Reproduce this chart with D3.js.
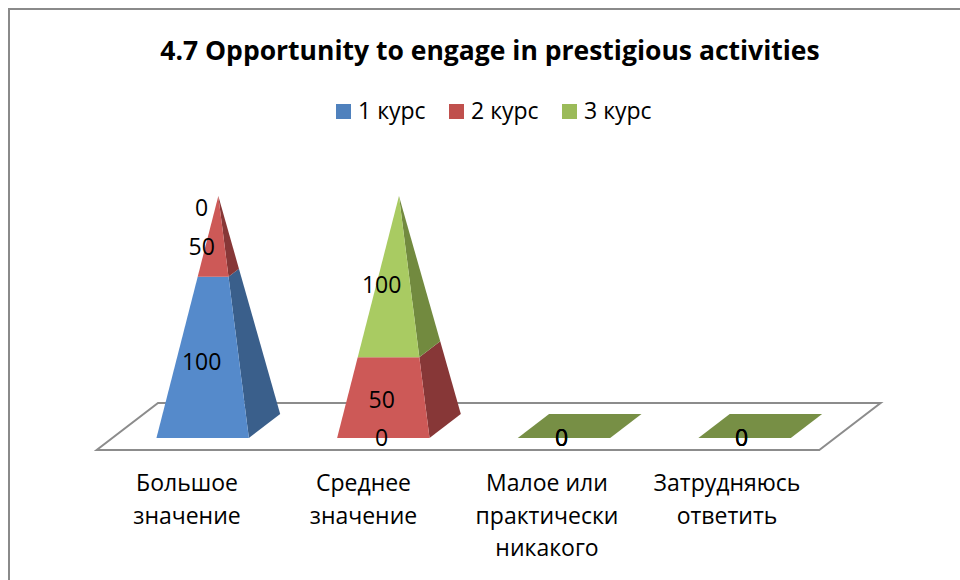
<!DOCTYPE html>
<html><head><meta charset="utf-8">
<script src="https://cdn.jsdelivr.net/npm/d3@7"></script>
<style>html,body{margin:0;padding:0;background:#fff}svg{display:block}text{font-family:"Open Sans","Noto Sans",sans-serif;fill:#000}</style>
</head><body><svg id="c" width="960" height="580"></svg>
<script>
const titleText = "4.7 Opportunity to engage in prestigious activities";
const categories = ["Большое значение","Среднее значение","Малое или практически никакого","Затрудняюсь ответить"];
const categoryLines = [["Большое","значение"],["Среднее","значение"],["Малое или","практически","никакого"],["Затрудняюсь","ответить"]];
const seriesNames = ["1 курс","2 курс","3 курс"];
const kurs1 = [100,0,0,0];
const kurs2 = [50,50,0,0];
const kurs3 = [0,100,0,0];
const seriesValues = [kurs1,kurs2,kurs3];
const legendColors = ["#4F81BD","#C0504D","#9BBB59"];
const frontColors = ["#558ACB","#CD5957","#A9CB62"];
const sideColors = ["#3A5F8B","#873737","#728A3F"];
const floorColor = "#778F45";

const svg = d3.select("#c");
svg.append("path").attr("d","M9,580V9H960").attr("fill","none").attr("stroke","#8a8a8a").attr("stroke-width",2);
svg.append("text").attr("x",490).attr("y",60).attr("text-anchor","middle").attr("font-size",26.5).attr("font-weight",700).text(titleText);

const FS = 23;
const legendX = d3.scalePoint(seriesNames,[336,562]);
const lg = svg.selectAll(".lg").data(seriesNames).join("g").attr("transform",d=>`translate(${legendX(d)},104)`);
lg.append("rect").attr("width",15).attr("height",15).attr("fill",(d,i)=>legendColors[i]);
lg.append("text").attr("x",22).attr("y",15).attr("font-size",FS).text(d=>d);

const x = d3.scaleBand(categories,[96.7,819.3]);
const xLabel = d3.scalePoint(categories,[201.7,741.7]);
const y = d3.scaleLinear([0,150],[0,230]);
const DX = 61.3, DY = 47, BASE = 450;
const half = 46.2, d0 = .255, d1 = .766;
const proj = (px,d,h) => [px + DX*d, BASE - DY*d - h];
function corner(cat,side,d,v){
  const c = x(cat)+x.bandwidth()/2;
  const t = v/150;
  const dm = (d0+d1)/2;
  return proj(c + side*half*(1-t), dm+(d-dm)*(1-t), y(v));
}
const pts = a => "M"+a.map(p=>p.join(",")).join("L")+"Z";
const g = svg.append("g");
// floor
g.append("path").attr("d",pts([proj(96.7,0,0),proj(819.3,0,0),proj(819.3,1,0),proj(96.7,1,0)]))
 .attr("fill","none").attr("stroke","#8c8c8c").attr("stroke-width",2);
categories.forEach((cat,ci)=>{
  const total = d3.sum(seriesValues,s=>s[ci]);
  if(total===0){
    g.append("path").attr("d",pts([corner(cat,-1,d0,0),corner(cat,1,d0,0),corner(cat,1,d1,0),corner(cat,-1,d1,0)])).attr("fill",floorColor);
  }
  let acc=0;
  seriesValues.forEach((s,si)=>{
    const v=s[ci], a=acc, b=acc+v; acc=b;
    if(v>0){
      g.append("path").attr("d",pts([corner(cat,1,d0,a),corner(cat,1,d1,a),corner(cat,1,d1,b),corner(cat,1,d0,b)])).attr("fill",sideColors[si]);
      g.append("path").attr("d",pts([corner(cat,-1,d0,a),corner(cat,1,d0,a),corner(cat,1,d0,b),corner(cat,-1,d0,b)])).attr("fill",frontColors[si]);
    }
  });
});
// value labels
categories.forEach((cat,ci)=>{
  let acc=0;
  seriesValues.forEach(s=>{
    const v=s[ci], mid=acc+v/2; acc+=v;
    g.append("text").attr("x",xLabel(cat)).attr("y",438-y(mid)).attr("dy","0.36em").attr("text-anchor","middle").attr("font-size",FS).text(v);
  });
});
// category labels
const catX = d3.scalePoint(categories,[187,727]);
const catNudge = [0,-3.5,0,0];
categories.forEach((cat,ci)=>{
  const t = svg.append("text").attr("text-anchor","middle").attr("font-size",FS);
  categoryLines[ci].forEach((l,li)=>t.append("tspan").attr("x",catX(cat)+catNudge[ci]).attr("y",491+li*32.5).text(l));
});
</script></body></html>
